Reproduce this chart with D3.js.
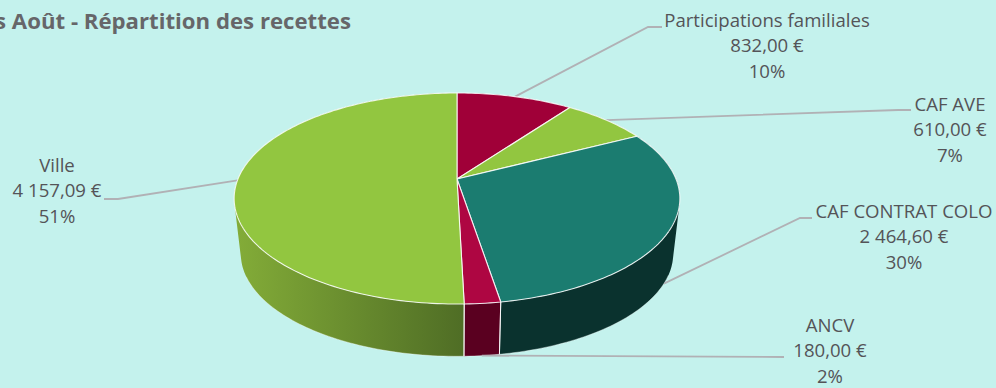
<!DOCTYPE html>
<html><head><meta charset="utf-8">
<script src="https://cdn.jsdelivr.net/npm/d3@7"></script>
<style>html,body{margin:0;padding:0;background:#c4f2ed;overflow:hidden}svg{display:block}text{font-family:"Open Sans",Lato,sans-serif}</style>
</head><body><div id="c"></div>
<script>
const categories = ["Participations familiales","CAF AVE","CAF CONTRAT COLO","ANCV","Ville"];
const values = [832.00,610.00,2464.60,180.00,4157.09];
const amountLabels = ["832,00 €","610,00 €","2 464,60 €","180,00 €","4 157,09 €"];
const percentLabels = ["10%","7%","30%","2%","51%"];
const topColors = ["#a00038","#92c640","#1b7c70","#ae0642","#92c640"];
const wallColors = ["#5a0020","#5f8028","#0a322e","#5a0020","url(#gw)"];
const titleText = "s Août - Répartition des recettes";

const W=996,H=388,cx=457,cy=179,A=219,B=101.9,k=0.185,depth=56,shrink=0.97;
const svg=d3.select("#c").append("svg").attr("width",W).attr("height",H);
svg.append("rect").attr("width",W).attr("height",H).attr("fill","#c4f2ed");
const defs=svg.append("defs");
const g=defs.append("linearGradient").attr("id","gw").attr("gradientUnits","userSpaceOnUse")
  .attr("x1",236).attr("x2",464).attr("y1",0).attr("y2",0);
g.append("stop").attr("offset",0).attr("stop-color","#83ac38");
g.append("stop").attr("offset",1).attr("stop-color","#4f6d25");

function proj(a,bottom){
  const u=Math.sin(a),v=-Math.cos(a),w=1-k*v,s=bottom?shrink:1;
  return [cx+s*A*u/w, cy+(bottom?depth:0)+s*B*v/w];
}
const arcs=d3.pie().sort(null)(values);
const line=d3.line();
function samples(d){
  const n=Math.max(2,Math.ceil((d.endAngle-d.startAngle)/0.02));
  return d3.range(n+1).map(i=>d.startAngle+(d.endAngle-d.startAngle)*i/n);
}
const leaderStyle=s=>s.attr("fill","none").attr("stroke","#b1b1b5").attr("stroke-width",1.8);
const mid=d=>(d.startAngle+d.endAngle)/2;
const leaderElbows=[[[648,27],[662,27]],[[898,110],[911,110]],[[800,218],[812,218]],[[784,357]],[[118,199],[104,199]]];
const anchorBottom=[false,false,true,true,false];

const leaderPath=i=>line([proj(mid(arcs[i]),anchorBottom[i])].concat(leaderElbows[i]));
svg.append("g").selectAll("path").data([0,1,2,4]).join("path").attr("d",leaderPath).call(leaderStyle);

// walls: one path per slice made of same-winding quads, so the silhouette stays tangent without seams
const wall=svg.append("g");
arcs.forEach((d,i)=>{
  const dPath=d3.pairs(samples(d)).map(([a0,a1])=>{
    const q=[proj(a0,false),proj(a1,false),proj(a1,true),proj(a0,true)];
    return line(d3.polygonArea(q)<0?q.reverse():q)+"Z";
  }).join("");
  wall.append("path").attr("d",dPath).attr("fill",wallColors[i]);
});
// front seams and lower rim
arcs.forEach(d=>{
  wall.append("path").attr("d",line(samples(d).map(a=>proj(a,true)).filter(p=>p[1]>cy+depth+40)))
    .attr("fill","none").attr("stroke","#fff").attr("stroke-opacity",0.45).attr("stroke-width",0.8);
  [d.startAngle,d.endAngle].filter(a=>Math.cos(a)<0).forEach(a=>
    wall.append("path").attr("d",line([proj(a,false),proj(a,true)])).attr("fill","none")
      .attr("stroke","#fff").attr("stroke-opacity",0.8).attr("stroke-width",1));
});
// top face
svg.append("g").selectAll("path").data(arcs).join("path")
  .attr("d",d=>line([[cx,cy]].concat(samples(d).map(a=>proj(a,false))))+"Z")
  .attr("fill",(d,i)=>topColors[i]).attr("stroke","#fff").attr("stroke-opacity",0.85)
  .attr("stroke-width",1.1).attr("stroke-linejoin","round");
svg.append("path").attr("d",leaderPath(3)).call(leaderStyle);

const labelX=[767,950,904,830,57],labelY=[27,111,218,332,172];
const lab=svg.append("g").attr("font-size",18.6).attr("fill","#545458").attr("text-anchor","middle");
categories.forEach((c,i)=>{
  [c,amountLabels[i],percentLabels[i]].forEach((t,j)=>
    lab.append("text").attr("x",labelX[i]).attr("y",labelY[i]+j*25.4).text(t));
});
svg.append("text").attr("x",351).attr("y",29).attr("text-anchor","end").attr("font-size",22.2)
  .attr("font-weight",700).attr("fill","#666669").text(titleText);
</script></body></html>
